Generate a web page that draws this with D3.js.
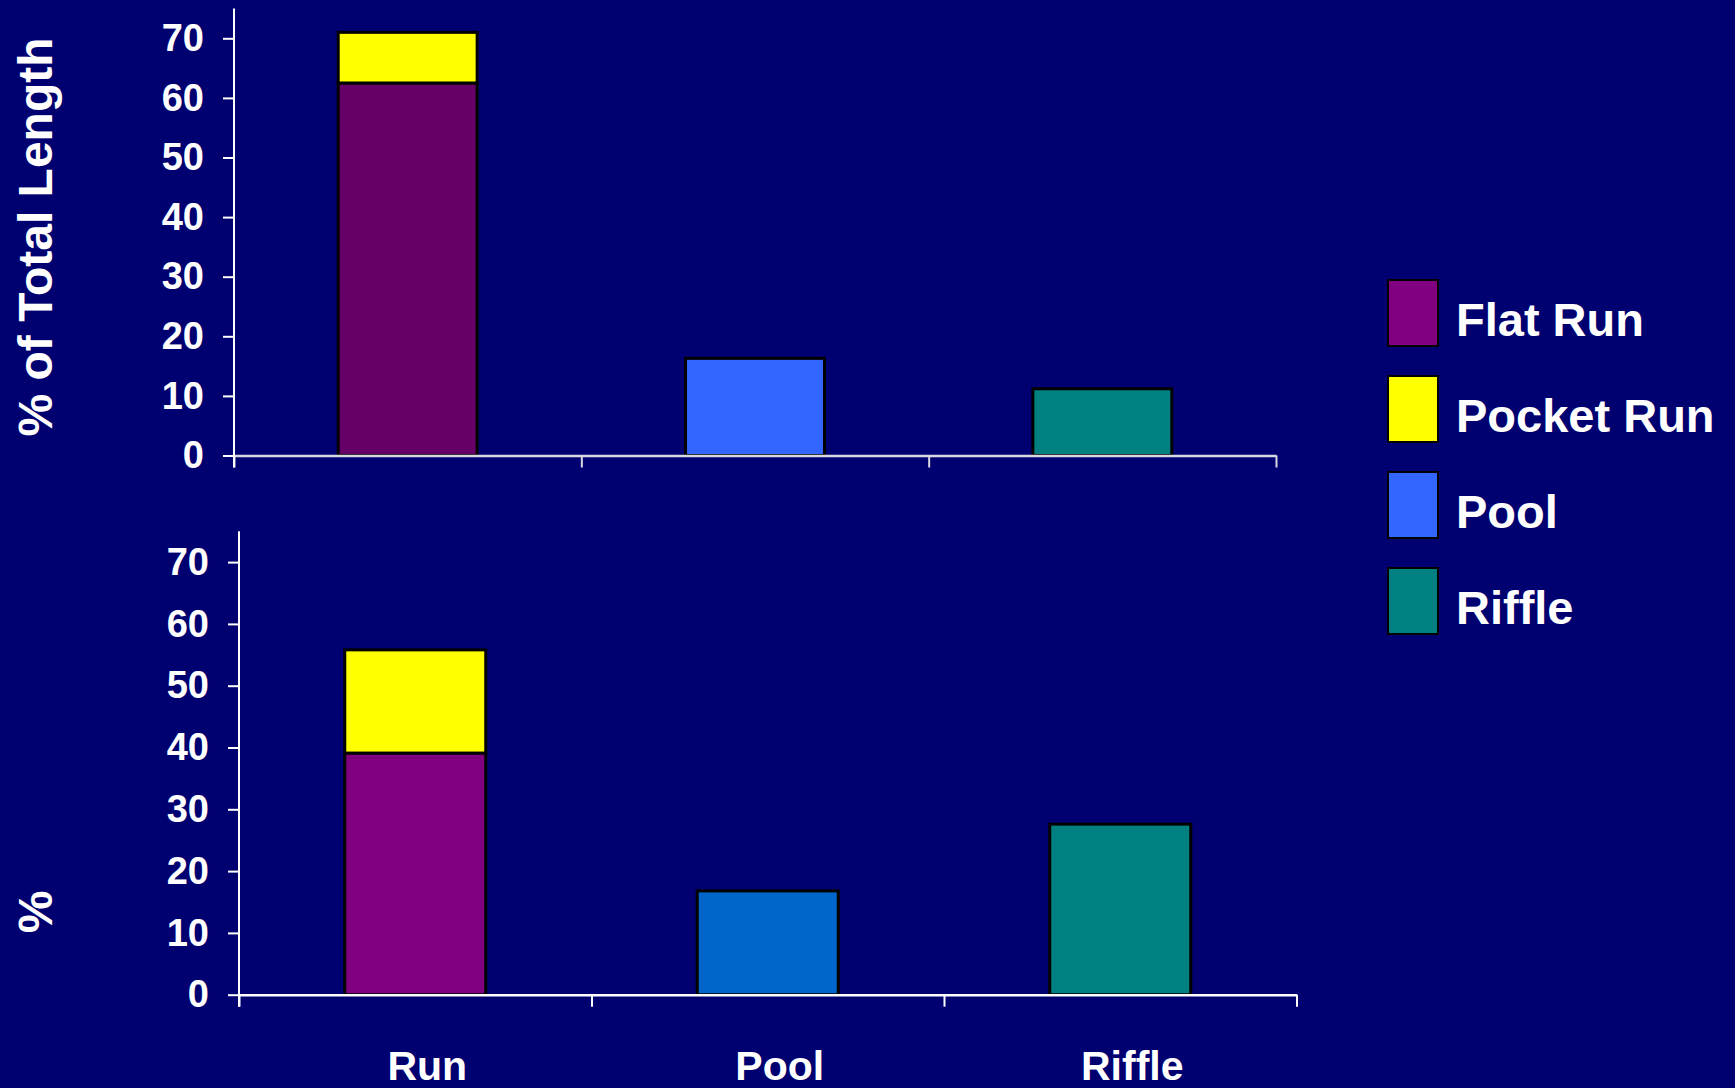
<!DOCTYPE html>
<html>
<head>
<meta charset="utf-8">
<script src="https://cdn.jsdelivr.net/npm/d3@7"></script>
<style>
  html, body { margin: 0; padding: 0; background: #000070; }
  svg { display: block; }
  text { font-family: "Liberation Sans", Arial, sans-serif; font-weight: bold; fill: #ffffff; }
</style>
</head>
<body>
<svg id="chart" width="1735" height="1088"></svg>
<script>
// ---- data ----
const categories = ["Run", "Pool", "Riffle"];
const seriesNames = ["Flat Run", "Pocket Run", "Pool", "Riffle"];
const legendColors = ["#800080", "#FFFF00", "#3366FF", "#008080"];
const yTicks = [0, 10, 20, 30, 40, 50, 60, 70];

// top panel: % of total length
const topFlatRun = [62.5, 0, 0];
const topPocketRun = [8.5, 0, 0];
const topPool = [0, 16.3, 0];
const topRiffle = [0, 0, 11.2];
const topColors = ["#660066", "#FFFF00", "#3366FF", "#008080"];

// bottom panel: %
const botFlatRun = [39.1, 0, 0];
const botPocketRun = [16.7, 0, 0];
const botPool = [0, 16.8, 0];
const botRiffle = [0, 0, 27.6];
const botColors = ["#800080", "#FFFF00", "#0066CC", "#008080"];

const svg = d3.select("#chart");
svg.append("rect").attr("width", 1735).attr("height", 1088).attr("fill", "#000070");

function panel(opts) {
  const { x0, x1, y0, yTop, series, colors, xLineColor, title, titleY, showLabels } = opts;
  const g = svg.append("g");
  const y = d3.scaleLinear().domain([0, 75]).range([y0, yTop]);
  const x = d3.scaleBand().domain(categories).range([x0, x1]).paddingInner(0.6).paddingOuter(0.3);

  const rows = categories.map((c, i) => {
    const r = { cat: c };
    seriesNames.forEach((s, k) => r[s] = series[k][i]);
    return r;
  });
  const stacked = d3.stack().keys(seriesNames)(rows);

  stacked.forEach((layer, k) => {
    g.selectAll(null).data(layer.filter(d => d[1] - d[0] > 0)).enter().append("rect")
      .attr("x", d => x(d.data.cat))
      .attr("width", x.bandwidth())
      .attr("y", d => y(d[1]))
      .attr("height", d => y(d[0]) - y(d[1]))
      .attr("fill", colors[k])
      .attr("stroke", "#000")
      .attr("stroke-width", 3);
  });

  const xb = d3.scaleLinear().domain([0, categories.length]).range([x0, x1]);
  const xAxis = g.append("g").attr("transform", `translate(0,${y0})`)
    .call(d3.axisBottom(xb).tickValues(d3.range(categories.length + 1)).tickFormat("").tickSize(12).tickSizeOuter(0));
  xAxis.select(".domain").attr("stroke", xLineColor).attr("stroke-width", 2.5);
  xAxis.selectAll(".tick line").attr("stroke", xLineColor).attr("stroke-width", 2);

  const yAxis = g.append("g").attr("transform", `translate(${x0},0)`)
    .call(d3.axisLeft(y).tickValues(yTicks).tickSize(11).tickPadding(19).tickSizeOuter(0));
  yAxis.select(".domain").remove();
  yAxis.append("line").attr("x1", 0).attr("x2", 0).attr("y1", y(75)).attr("y2", y0 + 12)
    .attr("stroke", "#fff").attr("stroke-width", 2);
  yAxis.selectAll(".tick line").attr("stroke", "#fff").attr("stroke-width", 2);
  yAxis.selectAll(".tick text")
    .style("font-family", '"Liberation Sans", Arial, sans-serif')
    .style("font-weight", "bold").style("font-size", "38px").attr("fill", "#fff");

  svg.append("text")
    .attr("transform", `translate(52,${titleY}) rotate(-90)`)
    .attr("text-anchor", "middle")
    .style("font-size", "48px")
    .text(title);

  if (showLabels) {
    g.selectAll(null).data(categories).enter().append("text")
      .attr("x", d => x(d) + x.bandwidth() / 2 + 12)
      .attr("y", 1080)
      .attr("text-anchor", "middle")
      .style("font-size", "41px")
      .text(d => d);
  }
}

panel({
  x0: 234, x1: 1276, y0: 455.5, yTop: 8.5,
  series: [topFlatRun, topPocketRun, topPool, topRiffle],
  colors: topColors, xLineColor: "#d8d8e0",
  title: "% of Total Length", titleY: 237, showLabels: false
});

panel({
  x0: 239, x1: 1296.5, y0: 994.7, yTop: 531.2,
  series: [botFlatRun, botPocketRun, botPool, botRiffle],
  colors: botColors, xLineColor: "#ffffff",
  title: "%", titleY: 912, showLabels: true
});

const legend = svg.append("g");
seriesNames.forEach((name, i) => {
  legend.append("rect")
    .attr("x", 1388).attr("y", 280 + i * 96)
    .attr("width", 50).attr("height", 66)
    .attr("fill", legendColors[i]).attr("stroke", "#000").attr("stroke-width", 2);
  legend.append("text")
    .attr("x", 1456).attr("y", 336 + i * 96)
    .style("font-size", "47px")
    .text(name);
});
</script>
</body>
</html>
